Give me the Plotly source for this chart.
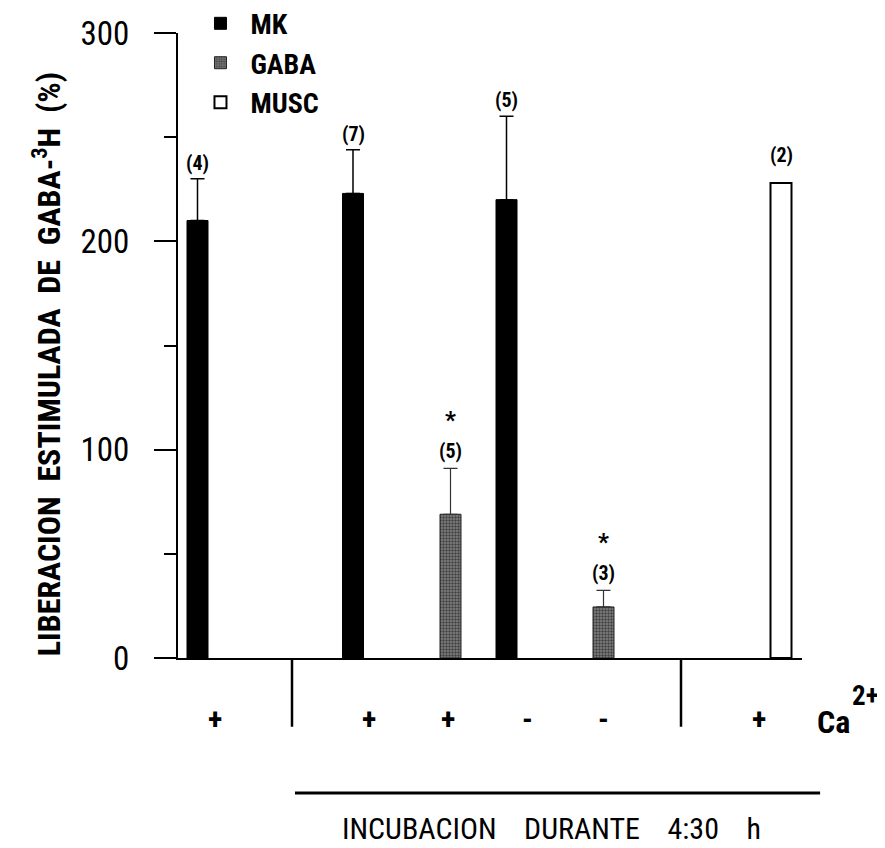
import plotly.graph_objects as go

# ---- data ----
series = ["MK", "GABA", "MUSC"]
mk_values = [210, 223, 220]
mk_errors = [20, 21, 40]
mk_n = ["(4)", "(7)", "(5)"]
gaba_values = [69, 24.5]
gaba_errors = [22, 8]
gaba_n = ["(5)", "(3)"]
musc_values = [228]
musc_errors = [0]
musc_n = ["(2)"]
calcium_marks = ["+", "+", "+", "-", "-", "+"]
y_ticks = [0, 100, 200, 300]

# ---- layout positions (x units along the axis) ----
mk_x = [1.95, 17.5, 32.85]
gaba_x = [27.25, 42.55]
musc_x = [60.3]
mark_x = [3.7, 19.1, 27.0, 34.9, 42.5, 58.1]
BAR_W = 2.1

FONT = "Liberation Sans Narrow, Arial Narrow, Roboto Condensed, Liberation Sans, Arial"

fig = go.Figure()

fig.add_trace(go.Bar(
    x=mk_x, y=mk_values, width=BAR_W, name="MK",
    marker=dict(color="black", line=dict(color="black", width=1)),
    error_y=dict(type="data", array=mk_errors, arrayminus=[0] * len(mk_errors),
                 symmetric=False, color="black", thickness=1.5, width=7),
))
fig.add_trace(go.Bar(
    x=gaba_x, y=gaba_values, width=BAR_W, name="GABA",
    marker=dict(color="#666", line=dict(color="#222", width=1),
                pattern=dict(shape=".", fgcolor="#000", bgcolor="#858585",
                             size=3, solidity=0.5)),
    error_y=dict(type="data", array=gaba_errors, arrayminus=[0] * len(gaba_errors),
                 symmetric=False, color="#333", thickness=1.2, width=7),
))
fig.add_trace(go.Bar(
    x=musc_x, y=musc_values, width=BAR_W, name="MUSC",
    marker=dict(color="white", line=dict(color="black", width=2)),
))

annotations = []
lab_font = dict(family=FONT, size=20, color="black", weight="bold")


def add_n(xs, vals, errs, labels, shift, star=False):
    for x, v, e, t in zip(xs, vals, errs, labels):
        annotations.append(dict(x=x, y=v + e, xref="x", yref="y", text=t,
                                showarrow=False, yshift=shift, font=lab_font))
        if star:
            annotations.append(dict(x=x, y=v + e, xref="x", yref="y", text="*",
                                    showarrow=False, yshift=shift + 31,
                                    font=dict(family=FONT, size=24, color="black",
                                              weight="bold")))


add_n(mk_x, mk_values, mk_errors, mk_n, 16)
add_n(gaba_x, gaba_values, gaba_errors, gaba_n, 17, star=True)
add_n(musc_x, musc_values, musc_errors, musc_n, 28)

# Ca2+ signs
for x, s in zip(mark_x, calcium_marks):
    annotations.append(dict(x=x, y=-0.097, xref="x", yref="paper", text=s,
                            showarrow=False, yanchor="middle",
                            font=dict(family=FONT, size=30, color="black", weight="bold")))
annotations.append(dict(x=1.05, y=-0.103, xref="paper", yref="paper", text="Ca",
                        showarrow=False, xanchor="center", yanchor="middle",
                        font=dict(family=FONT, size=32, color="black", weight="bold")))
annotations.append(dict(x=1.101, y=-0.06, xref="paper", yref="paper", text="2+",
                        showarrow=False, xanchor="center", yanchor="middle",
                        font=dict(family=FONT, size=27, color="black", weight="bold")))

annotations.append(dict(x=0.599, y=-0.272, xref="paper", yref="paper",
                        text="INCUBACION    DURANTE    4:30    h", showarrow=False,
                        xanchor="center", yanchor="middle",
                        font=dict(family=FONT, size=30, color="black")))

annotations.append(dict(x=-0.21, y=0.47, xref="paper", yref="paper",
                        text="LIBERACION  ESTIMULADA  DE  GABA-<sup>3</sup>H  (%)",
                        textangle=-90, showarrow=False, xanchor="center",
                        yanchor="middle",
                        font=dict(family=FONT, size=32, color="black", weight="bold")))

shapes = [
    dict(type="line", xref="x", yref="paper", x0=11.4, x1=11.4, y0=0, y1=-0.11,
         line=dict(color="black", width=2.5)),
    dict(type="line", xref="x", yref="paper", x0=50.3, x1=50.3, y0=0, y1=-0.11,
         line=dict(color="black", width=2.5)),
    dict(type="line", xref="paper", yref="paper", x0=0.1875, x1=1.029, y0=-0.216,
         y1=-0.216, line=dict(color="black", width=3)),
]

# the page adds an 8px body margin, so the figure is drawn 8px smaller and shifted
fig.update_layout(
    width=877, height=840,
    margin=dict(l=170, r=83, t=25, b=190, autoexpand=False),
    paper_bgcolor="white", plot_bgcolor="white",
    barmode="overlay",
    showlegend=True,
    legend=dict(x=0.02, y=1.055, xanchor="left", yanchor="top",
                font=dict(family=FONT, size=28, color="black", weight="bold"),
                bgcolor="rgba(0,0,0,0)", itemwidth=50, tracegroupgap=0),
    annotations=annotations,
    shapes=shapes,
    font=dict(family=FONT, color="black"),
)

fig.update_xaxes(range=[0, 62.4], showline=True, linecolor="black", linewidth=2,
                 showticklabels=False, ticks="", showgrid=False, zeroline=False,
                 automargin=False)
fig.update_yaxes(range=[0, 300], tickvals=y_ticks, showline=True, linecolor="black",
                 linewidth=2, ticks="outside", ticklen=22, tickwidth=2,
                 tickcolor="black", ticklabelstandoff=18,
                 minor=dict(dtick=50, ticks="outside", ticklen=12, tickwidth=2,
                            tickcolor="black"),
                 tickfont=dict(family=FONT, size=33, color="black"),
                 showgrid=False, zeroline=False, automargin=False)

fig.write_html("out.html")
